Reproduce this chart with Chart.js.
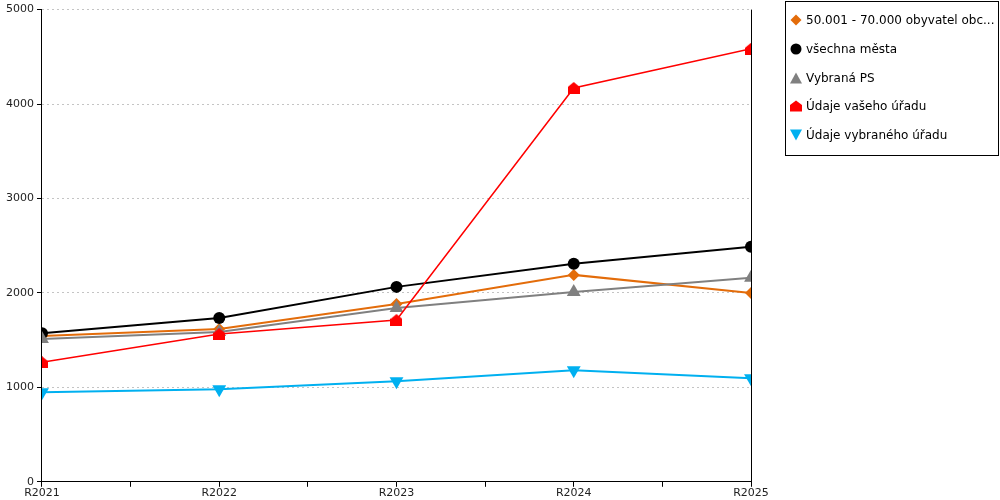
<!DOCTYPE html>
<html>
<head>
<meta charset="utf-8">
<script src="https://cdn.jsdelivr.net/npm/chart.js@4.4.1/dist/chart.umd.min.js"></script>
<style>
  html, body { margin:0; padding:0; background:#fff; }
  #wrap { position:relative; width:1000px; height:500px; }
  canvas { position:absolute; left:0; top:0; }
  #legend { position:absolute; left:785px; top:1px; width:214px; height:155px; border:1px solid #000; box-sizing:border-box;
    font-family:"DejaVu Sans", Verdana, sans-serif; font-size:12px; color:#000; }
  .item { position:absolute; left:4px; height:16px; display:flex; align-items:center; white-space:nowrap; }
  .item svg { width:12px; height:12px; margin-right:4px; }
</style>
</head>
<body>
<div id="wrap">
<canvas id="c" width="1000" height="500"></canvas>
<div id="legend"></div>
</div>
<script>
const categories = ["R2021", "R2022", "R2023", "R2024", "R2025"];
const seriesNames = ["50.001 - 70.000 obyvatel obc...", "všechna města", "Vybraná PS", "Údaje vašeho úřadu", "Údaje vybraného úřadu"];
const obyvatel = [1545, 1617, 1883, 2191, 2000];
const vsechnaMesta = [1574, 1734, 2064, 2309, 2489];
const vybranaPS = [1511, 1585, 1840, 2011, 2160];
const vasUrad = [1266, 1564, 1713, 4170, 4585];
const vybranyUrad = [947, 979, 1064, 1181, 1096];
const yTicks = [0, 1000, 2000, 3000, 4000, 5000];

const colors = ["#E36C0A", "#000000", "#808080", "#FF0000", "#00B0F0"];

function houseCanvas(color) {
  const c = document.createElement('canvas');
  c.width = 12; c.height = 12;
  const g = c.getContext('2d');
  g.fillStyle = color;
  g.beginPath();
  g.moveTo(6, 0); g.lineTo(12, 5); g.lineTo(12, 12); g.lineTo(0, 12); g.lineTo(0, 5); g.closePath();
  g.fill();
  return c;
}

const toPts = arr => arr.map((v, i) => ({x: i, y: v}));
const seriesValues = [obyvatel, vsechnaMesta, vybranaPS, vasUrad, vybranyUrad];
const styles = [
  {pointStyle:'rectRot', pointRadius:6, borderWidth:2},
  {pointStyle:'circle', pointRadius:6, borderWidth:2},
  {pointStyle:'triangle', pointRadius:8, borderWidth:2},
  {pointStyle:houseCanvas("#FF0000"), pointRadius:6, borderWidth:1.5},
  {pointStyle:'triangle', pointRadius:8, borderWidth:2, rotation:180},
];

const datasets = seriesValues.map((vals, i) => ({
  label: seriesNames[i],
  data: toPts(vals),
  borderColor: colors[i],
  backgroundColor: colors[i],
  pointBackgroundColor: colors[i],
  pointBorderColor: colors[i],
  pointBorderWidth: 0,
  borderWidth: styles[i].borderWidth,
  pointStyle: styles[i].pointStyle,
  pointRadius: styles[i].pointRadius,
  pointRotation: styles[i].rotation || 0,
  tension: 0,
  order: 5 - i
}));

const rightBorder = {
  id: 'rightBorder',
  afterDatasetsDraw(chart) {
    const {ctx, chartArea} = chart;
    ctx.save();
    ctx.strokeStyle = '#000';
    ctx.lineWidth = 1;
    ctx.beginPath();
    ctx.moveTo(Math.round(chartArea.right) + 0.5, chartArea.top);
    ctx.lineTo(Math.round(chartArea.right) + 0.5, chartArea.bottom);
    ctx.stroke();
    ctx.restore();
  }
};

const font = {family: '"DejaVu Sans", Verdana, sans-serif', size: 11};

new Chart(document.getElementById('c'), {
  type: 'line',
  data: { datasets },
  options: {
    responsive: false,
    animation: false,
    layout: { padding: { top: 9, right: 249, left: 3, bottom: 0 } },
    plugins: { legend: { display: false }, tooltip: { enabled: false } },
    scales: {
      x: {
        type: 'linear', min: 0, max: categories.length - 1,
        ticks: {
          stepSize: 0.5, autoSkip: false, maxRotation: 0, font, color: '#222', padding: 0,
          callback: v => Number.isInteger(v) ? categories[v] : ''
        },
        grid: { drawOnChartArea: false, tickLength: 5, color: '#000', lineWidth: 1 },
        border: { color: '#000', width: 1 }
      },
      y: {
        min: 0, max: 5000,
        afterBuildTicks: axis => { axis.ticks = yTicks.map(v => ({value: v})); },
        ticks: { font, color: '#222', padding: 3, callback: v => String(v) },
        grid: { drawTicks: true, tickLength: 5, tickColor: '#000', color: '#c4c4c4', lineWidth: 1 },
        border: { color: '#000', width: 1, dash: [2, 3] }
      }
    }
  },
  plugins: [rightBorder]
});

// HTML legend
const legend = document.getElementById('legend');
const svgs = [
  '<svg viewBox="0 0 12 12"><polygon points="6,0.5 11.5,6 6,11.5 0.5,6" fill="#E36C0A"/></svg>',
  '<svg viewBox="0 0 12 12"><circle cx="6" cy="6" r="5.5" fill="#000"/></svg>',
  '<svg viewBox="0 0 12 12"><polygon points="6,0.5 12,11.5 0,11.5" fill="#808080"/></svg>',
  '<svg viewBox="0 0 12 12"><polygon points="6,0.5 12,5 12,11.5 0,11.5 0,5" fill="#FF0000"/></svg>',
  '<svg viewBox="0 0 12 12"><polygon points="0,0.5 12,0.5 6,11.5" fill="#00B0F0"/></svg>'
];
seriesNames.forEach((n, i) => {
  const d = document.createElement('div');
  d.className = 'item';
  d.style.top = (10 + i * 28.8) + 'px';
  d.innerHTML = svgs[i] + '<span>' + n + '</span>';
  legend.appendChild(d);
});
</script>
</body>
</html>
